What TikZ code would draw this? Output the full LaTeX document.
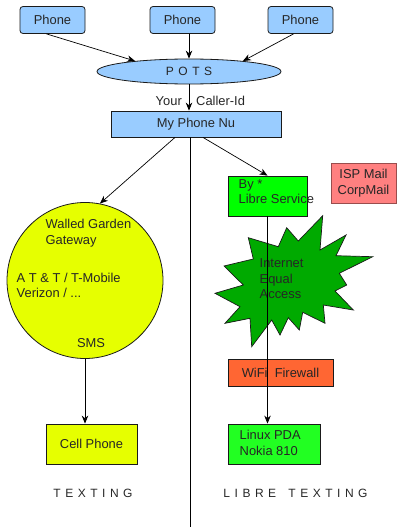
\documentclass[tikz,border=0pt]{standalone}
\usepackage{fontspec}
\setmainfont{Liberation Sans}
\usetikzlibrary{arrows.meta,shapes.geometric,calc}
\definecolor{phoneblue}{HTML}{99CCFF}
\definecolor{walled}{HTML}{E6FF00}
\definecolor{libregreen}{HTML}{00FF00}
\definecolor{linuxgreen}{HTML}{22FF22}
\definecolor{stargreen}{HTML}{00AA00}
\definecolor{wifired}{HTML}{FF6633}
\definecolor{ispred}{HTML}{FF8080}
\definecolor{txt}{HTML}{262626}
\definecolor{edge}{HTML}{1A1A1A}
\newcommand\myls{\kern4.5pt}
\begin{document}
\begin{tikzpicture}[x=1pt,y=-1pt,
  font=\fontsize{12.9}{15.5}\selectfont, text=txt,
  box/.style={draw=edge, line width=0.8pt, inner sep=0pt, rectangle},
  phonebox/.style={box, fill=phoneblue, rounded corners=3pt, minimum width=65pt, minimum height=27pt},
  arr/.style={-{Stealth[length=8pt,width=6.5pt]}, line width=0.7pt, draw=black},
  plain/.style={line width=0.7pt, draw=black},
  lbl/.style={inner sep=0pt, align=left},
  spaced/.style={inner sep=0pt, font=\fontsize{12}{14}\selectfont}]
\useasboundingbox (0,0) rectangle (399,527);

% phones
\node[phonebox] (ph1) at (52.5,20) {Phone};
\node[phonebox] (ph2) at (182.5,20) {Phone};
\node[phonebox] (ph3) at (300.5,20) {Phone};

% POTS
\node[ellipse, draw=edge, line width=0.8pt, fill=phoneblue, minimum width=184pt, minimum height=25pt, inner sep=0pt,
  font=\fontsize{12}{14}\selectfont] (pots) at (189,71.5) {P\myls O\myls T\myls S};

% My Phone Nu
\node[box, fill=phoneblue, minimum width=170pt, minimum height=26pt] (mpn) at (196,124) {My Phone Nu};

% Walled garden circle
\node[circle, draw=edge, line width=0.8pt, fill=walled, minimum size=156pt, inner sep=0pt] (circ) at (85,280.5) {};
\node[lbl, anchor=west] (wg) at (45.5,233) {Walled Garden\\Gateway};
\node[lbl, anchor=west] (att) at (16.5,285.5) {A T \& T / T-Mobile\\Verizon / ...};
\node[lbl] (sms) at (91,343) {SMS};

% Libre service
\node[box, fill=libregreen, minimum width=79pt, minimum height=40pt] (libre) at (267.5,196) {};
\node[lbl, anchor=west] (libretxt) at (238.5,191.5) {By *\\Libre Service};

% ISP Mail
\node[box, fill=ispred, minimum width=65pt, minimum height=40pt, align=center, draw=ispred!60!black] (isp) at (363.5,183) {ISP Mail\\CorpMail};

% starburst
\draw[fill=stargreen, draw=edge, line width=0.7pt, line join=miter]
  (322.7,215.7) -- (320,250) -- (346,235) -- (336,255.7) -- (372.7,256.7)
  -- (339.3,273.3) -- (346.7,285) -- (335,291) -- (353.3,310) -- (323.3,305)
  -- (325,323.3) -- (302.7,312.3) -- (299.3,330) -- (288.3,317.7) -- (280,335)
  -- (271.7,320) -- (251.7,346.7) -- (250,318.3) -- (225,323.3) -- (240,306.7)
  -- (215,293.3) -- (243.3,285) -- (224,266) -- (253.3,259) -- (248.3,237.7)
  -- (278.3,246.7) -- (286.7,227.7) -- (298.3,241) -- cycle;
\node[lbl, anchor=west] (inet) at (259.5,279) {Internet\\Equal\\Access};

% WiFi firewall
\node[box, fill=wifired, minimum width=105pt, minimum height=27pt] (wifi) at (280.5,372.5) {WiFi\ \ Firewall};

% end devices
\node[box, fill=walled, minimum width=91pt, minimum height=40pt] (cell) at (91.5,444) {Cell Phone};
\node[box, fill=linuxgreen, minimum width=92pt, minimum height=40pt] (linux) at (274,444) {};
\node[lbl, anchor=west] (linuxtxt) at (239.5,443) {Linux PDA\\Nokia 810};

% column labels
\node[spaced] (texting) at (93,493) {T\myls E\myls X\myls T\myls I\myls N\myls G};
\node[spaced] (libretexting) at (295.5,493) {L\myls I\myls B\myls R\myls E\myls\ \myls T\myls E\myls X\myls T\myls I\myls N\myls G};

% connectors
\draw[arr] ($(ph1.south)+(-6,0)$) -- (pots.169);
\draw[arr] (ph2.south -| pots.north) -- (pots.north);
\draw[arr] ($(ph3.south)+(-7,0)$) -- (pots.11);
\draw[arr] (pots.south) -- (pots.south |- mpn.north);
\node[inner sep=0pt, anchor=east] (your) at (182,101) {Your};
\node[inner sep=0pt, anchor=west] (callerid) at (196,101) {Caller-Id};

\coordinate (divbot) at (190,527);
\draw[plain] (divbot |- mpn.south) -- (divbot);

\draw[arr] ($(mpn.south)+(-21,0)$) -- (circ.79);
\draw[arr] ($(mpn.south)+(7,0)$) -- (libre.north);
\draw[arr] (circ.south) -- (circ.south |- cell.north);
\draw[arr] (libre.south) -- (libre.south |- linux.north);
\end{tikzpicture}
\end{document}
